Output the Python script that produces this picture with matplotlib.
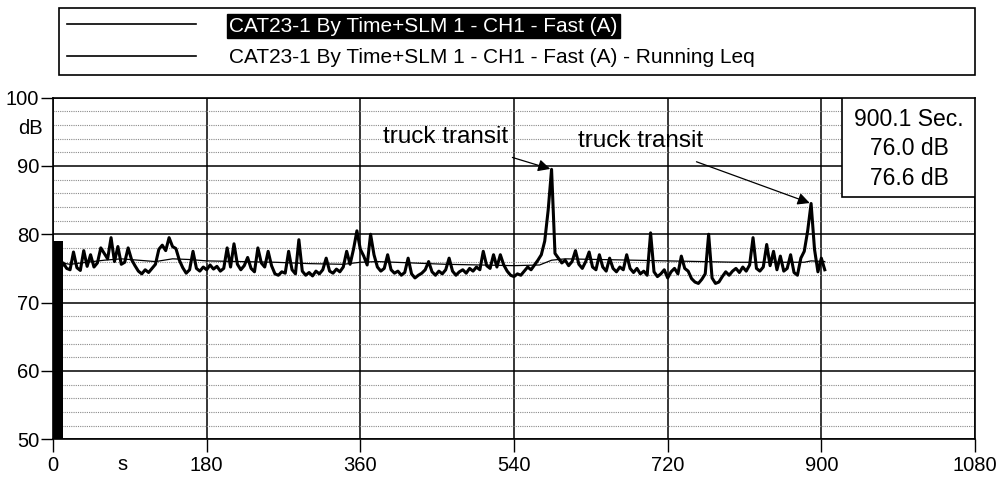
import numpy as np
import matplotlib
matplotlib.use("Agg")
import matplotlib.pyplot as plt
from matplotlib.ticker import MultipleLocator

plt.rcParams['font.family'] = ['Liberation Sans', 'DejaVu Sans']

# sound level, Fast (A), every 4 s
fast_step = 4
fast_db = [
    76.0, 75.2, 74.6, 75.8, 75.0, 74.8, 77.4, 75.1, 74.7, 77.6,
    75.3, 77.0, 75.2, 75.8, 78.0, 77.2, 76.4, 79.5, 76.0, 78.2,
    75.6, 75.9, 78.0, 76.3, 75.4, 74.6, 74.2, 74.8, 74.4, 75.0,
    75.6, 77.8, 78.4, 77.6, 79.5, 78.2, 77.9, 76.2, 75.1, 74.3,
    74.8, 77.5, 75.0, 74.6, 75.2,                                # 0-176
    74.8, 75.5, 74.9, 75.3, 74.6, 75.0, 78.0, 75.2, 78.6, 75.6,
    74.8, 75.4, 76.6, 75.0, 74.5, 78.0, 75.8, 75.2, 77.5, 75.4,
    74.2, 74.0, 74.5, 74.3, 77.5, 74.8, 74.2, 79.2, 74.6, 74.0,
    74.4, 73.9, 74.6, 74.2, 74.8, 76.5, 74.6, 74.3, 74.9, 74.5,
    75.2, 77.5, 75.6, 77.8, 80.5,                                # 180-356
    77.8, 76.8, 75.5, 80.0, 77.0, 75.2, 74.6, 75.0, 77.0, 74.8,
    74.3, 74.6, 74.0, 74.4, 76.5, 74.2, 73.6, 74.0, 74.3, 74.8,
    76.0, 74.5, 74.0, 74.6, 74.2, 74.8, 76.5, 74.6, 74.0, 74.5,
    74.8, 74.3, 75.0, 74.6, 75.2, 74.8, 77.5, 75.4, 75.0, 77.0,
    75.2, 77.0, 75.5, 74.6, 74.0,                                # 360-536
    73.8, 74.2, 74.0, 74.6, 75.2, 74.8, 75.5, 76.2, 77.0, 79.0,
    83.5, 89.5, 77.2, 76.5, 75.8, 76.2, 75.4, 76.0, 77.6, 75.6,
    75.0, 76.0, 77.4, 75.2, 74.8, 77.0, 75.2, 74.6, 76.5, 75.0,
    74.5, 75.2, 74.8, 77.0, 75.0, 74.4, 75.0, 74.2, 74.6, 74.0,
    80.2, 74.5, 73.8, 74.2, 74.8,                                # 540-716
    73.6, 74.5, 75.0, 74.2, 76.8, 75.0, 74.6, 73.5, 73.0, 72.8,
    73.4, 74.2, 80.0, 73.6, 72.8, 73.0, 73.8, 74.5, 74.0, 74.6,
    75.0, 74.4, 75.2, 74.6, 75.5, 79.5, 75.0, 74.6, 75.2, 78.5,
    75.4, 77.5, 74.8, 76.8, 74.6, 75.0, 77.0, 74.4, 74.0, 76.5,
    77.5, 80.5, 84.5, 77.8, 74.5, 76.5, 74.8,                    # 720-904
]
fast_time = np.arange(len(fast_db)) * fast_step

# running Leq
leq_time = [0, 10, 20, 40, 60, 80, 100, 120, 140, 160, 180, 220, 260, 300,
            340, 360, 380, 420, 460, 500, 540, 570, 584, 600, 640, 680, 720,
            760, 800, 840, 880, 888, 904]
leq_db = [76.0, 75.8, 75.6, 75.9, 76.2, 76.4, 76.2, 76.0, 76.4, 76.3, 76.1,
          76.0, 75.9, 75.7, 75.6, 75.9, 76.0, 75.8, 75.6, 75.5, 75.4, 75.5,
          76.2, 76.4, 76.3, 76.2, 76.1, 76.0, 75.9, 75.9, 75.9, 76.1, 76.0]

# instrument settling block at the start
settle_end = 12
settle_top = 79.0

series_names = ["CAT23-1 By Time+SLM 1 - CH1 - Fast (A)",
                "CAT23-1 By Time+SLM 1 - CH1 - Fast (A) - Running Leq"]
summary_lines = ["900.1 Sec.", "76.0 dB", "76.6 dB"]

peak1 = (584, 89.5)
peak2 = (888, 84.5)

fig = plt.figure(figsize=(10, 4.88), dpi=100)
ax = fig.add_axes([0.053, 0.10, 0.922, 0.70])

ax.set_xlim(0, 1080)
ax.set_ylim(50, 100)
ax.xaxis.set_major_locator(MultipleLocator(180))
ax.yaxis.set_major_locator(MultipleLocator(10))
ax.yaxis.set_minor_locator(MultipleLocator(2))

ax.grid(which='major', color='black', linewidth=1.1)
ax.grid(which='minor', axis='y', color='#8a8a8a', linewidth=0.8, linestyle=(0, (1, 1)))
ax.tick_params(which='major', length=9, width=1, labelsize=14.5, colors='black')
ax.tick_params(which='minor', length=0)
ax.tick_params(axis='y', pad=1)
ax.tick_params(axis='x', pad=3)
for sp in ax.spines.values():
    sp.set_linewidth(1.2)

ax.fill_between([0, settle_end], 50, settle_top, color='black', linewidth=0, zorder=3)
ln1, = ax.plot(fast_time, fast_db, color='black', linewidth=2.2, zorder=4)
ln2, = ax.plot(leq_time, leq_db, color='black', linewidth=0.9, zorder=5)

leg = ax.legend([ln1, ln2], series_names, loc='lower left',
                bbox_to_anchor=(0.006, 1.065, 0.994, 0.25), mode='expand',
                borderaxespad=0, fancybox=False, edgecolor='black',
                fontsize=15, handlelength=6.2, handletextpad=1.6,
                labelspacing=0.6, borderpad=0.4, framealpha=1)
leg.get_frame().set_linewidth(1.2)
for h in leg.get_lines():
    h.set_linewidth(1.2)
t0 = leg.get_texts()[0]
t0.set_color('white')
t0.set_bbox(dict(facecolor='black', edgecolor='black', pad=1.5))

# unit labels
ax.text(-12, 95.5, 'dB', fontsize=14.5, ha='right', va='center')
ax.text(81, -0.045, 's', fontsize=14.5, ha='center', va='top',
        transform=ax.get_xaxis_transform())

# summary box
ax.add_patch(plt.Rectangle((924, 85.5), 156, 14.5, facecolor='white',
                           edgecolor='black', linewidth=1.2, zorder=6))
for i, s in enumerate(summary_lines):
    ax.text(1003, 96.8 - i * 4.3, s, fontsize=16.5, ha='center', va='center', zorder=7)

arrow = dict(arrowstyle='-|>', color='black', linewidth=0.9, mutation_scale=18)
ax.annotate('truck transit', xy=peak1, xytext=(460, 94.2), fontsize=17.5,
            ha='center', va='center', arrowprops=dict(arrow, shrinkA=16, shrinkB=1),
            zorder=8)
ax.annotate('truck transit', xy=peak2, xytext=(688, 93.6), fontsize=17.5,
            ha='center', va='center', arrowprops=dict(arrow, shrinkA=14, shrinkB=1),
            zorder=8)

fig.savefig('out.png', dpi=100, facecolor='white')
